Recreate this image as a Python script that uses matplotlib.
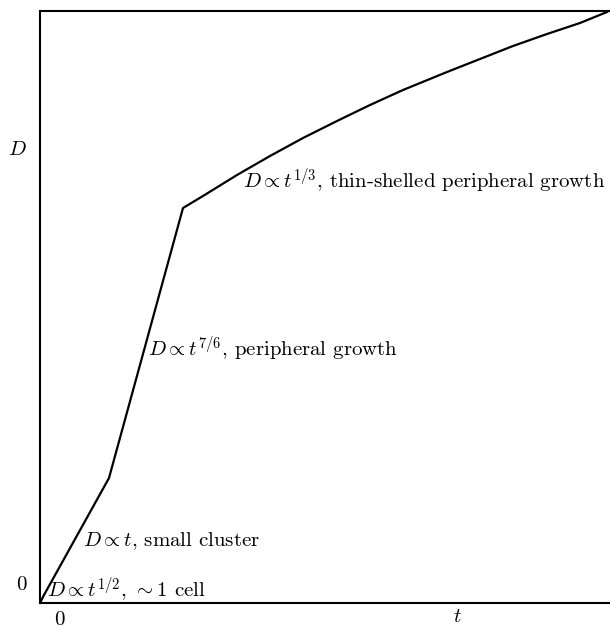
import matplotlib
matplotlib.use("Agg")
import matplotlib.pyplot as plt

plt.rcParams["font.family"] = "cmr10"
plt.rcParams["mathtext.fontset"] = "cm"
plt.rcParams["axes.unicode_minus"] = False

# curve (t, D in arbitrary units)
t_vals = [0, 4, 69, 143, 163, 197, 230, 263, 297, 330, 363, 407, 440, 473, 507, 540, 567]
d_vals = [0, 8, 125, 395, 407, 428, 447, 465, 482, 498, 513, 531, 544, 557, 569, 580, 591]

labels = [
    r"$D \propto t^{1/3}$, thin-shelled peripheral growth",
    r"$D \propto t^{7/6}$, peripheral growth",
    r"$D \propto t$, small cluster",
    r"$D \propto t^{1/2}$, $\sim 1$ cell",
]
label_px = [(243, 188), (148, 356), (83, 546), (47, 597)]

W, H = 610, 629
fig = plt.figure(figsize=(W / 100, H / 100), dpi=100)
ax = fig.add_axes([40 / W, (H - 603) / H, 570 / W, 592 / H])

ax.plot(t_vals, d_vals, color="black", linewidth=1.6)
ax.set_xlim(0, 570)
ax.set_ylim(0, 592)
ax.set_xticks([])
ax.set_yticks([])
ax.spines["right"].set_visible(False)
for s in ("left", "bottom", "top"):
    ax.spines[s].set_linewidth(1.5)

for txt, (px, py) in zip(labels, label_px):
    fig.text(px / W, 1 - py / H, txt, fontsize=15, ha="left", va="baseline")

fig.text(22 / W, 1 - 585 / H, r"$0$", fontsize=15, ha="center", va="center")
fig.text(60 / W, 1 - 620 / H, r"$0$", fontsize=15, ha="center", va="center")
fig.text(457 / W, 1 - 617 / H, r"$t$", fontsize=15, ha="center", va="center")
fig.text(17 / W, 1 - 150 / H, r"$D$", fontsize=15, ha="center", va="center")

fig.savefig("out.png", dpi=100)
